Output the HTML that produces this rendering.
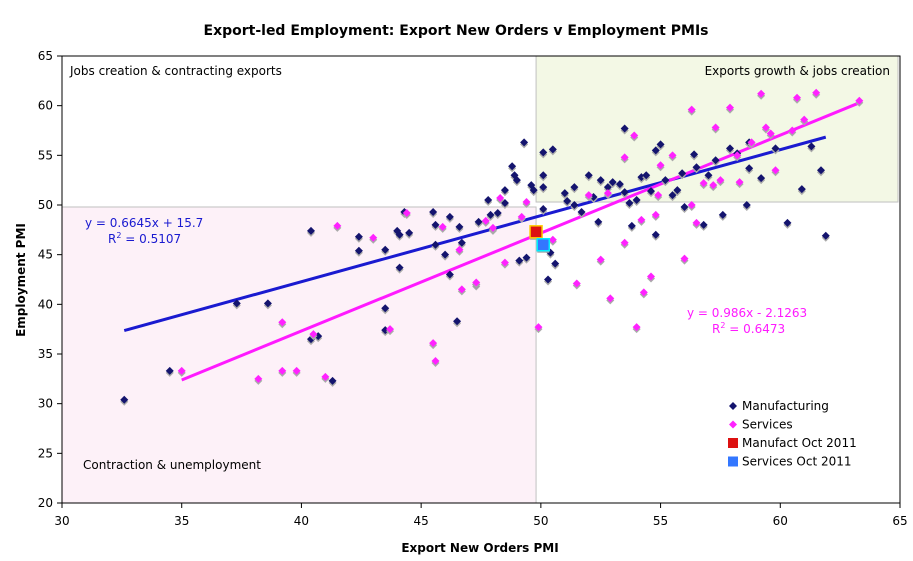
<!DOCTYPE html>
<html><head><meta charset="utf-8"><style>
body{margin:0;background:#fff;}
svg{display:block;font-family:"DejaVu Sans","Liberation Sans",sans-serif;}
</style></head><body>
<svg id="chart" width="913" height="561">
<text x="456" y="35" text-anchor="middle" font-weight="bold" font-size="14">Export-led Employment: Export New Orders v Employment PMIs</text>
<text x="480" y="552" text-anchor="middle" font-weight="bold" font-size="12">Export New Orders PMI</text>
<text transform="translate(25,280) rotate(-90)" text-anchor="middle" font-weight="bold" font-size="12">Employment PMI</text>
<g id="regions"></g><g id="axes"></g><g id="lines"></g><g id="marks"></g>
<text x="70" y="75" font-size="12">Jobs creation &amp; contracting exports</text>
<text x="890" y="75" text-anchor="end" font-size="12">Exports growth &amp; jobs creation</text>
<text x="83" y="469" font-size="12">Contraction &amp; unemployment</text>
<text x="85" y="227" font-size="12" fill="#1a1ad0">y = 0.6645x + 15.7</text>
<text x="108" y="243" font-size="12" fill="#1a1ad0">R<tspan dy="-5" font-size="8">2</tspan><tspan dy="5"> = 0.5107</tspan></text>
<text x="687" y="317" font-size="12" fill="#ff1aff">y = 0.986x - 2.1263</text>
<text x="712" y="333" font-size="12" fill="#ff1aff">R<tspan dy="-5" font-size="8">2</tspan><tspan dy="5"> = 0.6473</tspan></text>
<g id="legend"></g>
</svg>
<script>
const xTicks=[30,35,40,45,50,55,60,65];
const yTicks=[20,25,30,35,40,45,50,55,60,65];
const mfgX=[32.6,34.5,37.3,38.6,40.4,40.4,40.7,41.3,42.4,42.4,43.5,43.5,43.5,44.0,44.1,44.1,44.3,44.5,45.5,45.6,45.6,46.0,46.2,46.2,46.5,46.6,46.7,47.3,47.4,47.8,47.9,48.2,48.0,48.5,48.5,48.8,48.9,49.0,49.1,49.4,49.3,49.6,49.7,50.1,50.1,50.5,50.1,50.1,50.3,50.6,50.4,51.1,51.4,51.4,51.7,52.0,52.5,52.4,52.8,53.0,53.3,53.5,53.5,53.8,54.0,54.2,54.4,54.6,54.8,55.0,55.2,55.5,55.7,56.0,56.4,56.5,56.8,57.0,57.6,57.9,58.2,58.6,58.7,59.2,59.8,60.9,61.3,61.7,61.9,60.3,58.7,52.2,53.7,55.9,51.0,54.8,57.3];
const mfgY=[30.4,33.3,40.1,40.1,47.4,36.5,36.8,32.3,46.8,45.4,37.4,39.6,45.5,47.4,47.0,43.7,49.3,47.2,49.3,48.0,46.0,45.0,48.8,43.0,38.3,47.8,46.2,42.0,48.3,50.5,49.0,49.2,47.6,51.5,50.2,53.9,53.0,52.5,44.4,44.7,56.3,52.0,51.5,55.3,53.0,55.6,51.8,49.6,42.5,44.1,45.2,50.4,50.0,51.8,49.3,53.0,52.5,48.3,51.8,52.3,52.1,57.7,51.3,47.9,50.5,52.8,53.0,51.4,55.5,56.1,52.5,51.0,51.5,49.8,55.1,53.8,48.0,53.0,49.0,55.7,55.2,50.0,56.3,52.7,55.7,51.6,55.9,53.5,46.9,48.2,53.7,50.8,50.2,53.2,51.2,47.0,54.5];
const svcX=[35.0,38.2,39.2,39.2,39.8,40.5,41.0,41.5,43.0,43.7,44.4,45.5,45.6,45.9,46.6,46.7,47.3,47.7,48.0,48.3,48.5,49.2,49.4,49.9,50.5,51.5,52.0,52.5,52.8,52.9,53.5,53.5,53.9,54.0,54.2,54.3,54.6,54.8,54.9,55.0,55.5,56.0,56.3,56.3,56.8,57.2,57.3,57.9,58.2,58.8,59.2,59.4,59.6,59.8,60.7,61.5,63.3,58.3,57.5,56.5,60.5,61.0];
const svcY=[33.3,32.5,38.2,33.3,33.3,37.0,32.7,47.9,46.7,37.5,49.2,36.1,34.3,47.8,45.5,41.5,42.2,48.4,47.7,50.7,44.2,48.8,50.3,37.7,46.5,42.1,51.0,44.5,51.2,40.6,54.8,46.2,57.0,37.7,48.5,41.2,42.8,49.0,51.0,54.0,55.0,44.6,59.6,50.0,52.2,52.0,57.8,59.8,55.0,56.3,61.2,57.8,57.2,53.5,60.8,61.3,60.5,52.3,52.5,48.2,57.5,58.6];
const octMfg=[49.8,47.3];
const octSvc=[50.1,46.0];
const mfgFit=[0.6645,15.7,32.6,61.9];
const svcFit=[0.986,-2.1263,35.0,63.3];

const L=62,R=900,T=56,B=503;
const sx=v=>L+(v-30)/35*(R-L);
const sy=v=>B-(v-20)/45*(B-T);
const NS="http://www.w3.org/2000/svg";
function mk(tag,attrs,parent){const e=document.createElementNS(NS,tag);for(const k in attrs)e.setAttribute(k,attrs[k]);document.getElementById(parent).appendChild(e);return e;}

let r=mk('rect',{x:sx(49.8),y:sy(65),width:sx(65)-sx(49.8)-2,height:sy(50.3)-sy(65),fill:'#f3f8e5',stroke:'#c0c0c0'},'regions');


r=mk('rect',{x:L,y:sy(49.8),width:sx(49.8)-L,height:B-sy(49.8),fill:'#fdf1f8',stroke:'#c0c0c0'},'regions');



let a=mk('rect',{x:L,y:T,width:R-L,height:B-T,fill:'none',stroke:'#000'},'axes');


xTicks.forEach(v=>{
  mk('line',{x1:sx(v),x2:sx(v),y1:B,y2:B+5,stroke:'#000'},'axes');
  const t=mk('text',{x:sx(v),y:B+22,'text-anchor':'middle','font-size':12},'axes');t.textContent=v;
  
  
});
yTicks.forEach(v=>{
  mk('line',{x1:L-5,x2:L,y1:sy(v),y2:sy(v),stroke:'#000'},'axes');
  const t=mk('text',{x:L-9,y:sy(v)+4,'text-anchor':'end','font-size':12},'axes');t.textContent=v;
  
  
});

function diamond(x,y,fill,name){
  const cx=sx(x),cy=sy(y),s=4;
  mk('polygon',{points:`${cx},${cy-s+2} ${cx+s},${cy+2} ${cx},${cy+s+2} ${cx-s},${cy+2}`,fill:'#aaa'},'marks');
  const p=mk('polygon',{points:`${cx},${cy-s} ${cx+s},${cy} ${cx},${cy+s} ${cx-s},${cy}`,fill:fill},'marks');
  
  
}
mfgX.forEach((x,i)=>diamond(x,mfgY[i],'#14146e','manufacturing-point'));
svcX.forEach((x,i)=>diamond(x,svcY[i],'#ff22ff','services-point'));

function fit(f,col,name){
  const l=mk('line',{x1:sx(f[2]),y1:sy(f[0]*f[2]+f[1]),x2:sx(f[3]),y2:sy(f[0]*f[3]+f[1]),stroke:col,'stroke-width':3},'lines');
  
  
}
fit(mfgFit,'#1a1ad0','manufacturing-trendline');
fit(svcFit,'#ff1aff','services-trendline');

function sq(pt,fill,stroke,name){
  const cx=sx(pt[0]),cy=sy(pt[1]);
  mk('rect',{x:cx-6,y:cy-4,width:12,height:12,fill:'#aaa'},'marks');
  const s=mk('rect',{x:cx-6,y:cy-6,width:12,height:12,fill:fill,stroke:stroke,'stroke-width':1.5},'marks');
  
  
}
sq(octMfg,'#dd1111','#ffcc00','manufact-oct-2011-point');
sq(octSvc,'#3377ff','#00eeff','services-oct-2011-point');

const leg=[['Manufacturing','d','#14146e'],['Services','d','#ff22ff'],['Manufact Oct 2011','s','#dd1111'],['Services Oct 2011','s','#3377ff']];
leg.forEach((e,i)=>{
  const y=406+i*18.5;
  if(e[1]=='d') mk('polygon',{points:`733,${y-4} 737,${y} 733,${y+4} 729,${y}`,fill:e[2]},'legend');
  else mk('rect',{x:728,y:y-5,width:10,height:10,fill:e[2]},'legend');
  const t=mk('text',{x:742,y:y+4,'font-size':12},'legend');t.textContent=e[0];
  
  
});
</script>
</body></html>
